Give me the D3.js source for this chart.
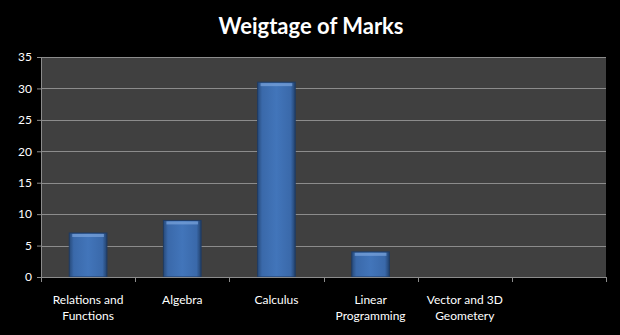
<!DOCTYPE html>
<meta charset="utf-8">
<style>
    body { margin: 0; background: #000; }
    text { font-family: Lato, "Open Sans", sans-serif; fill: #fff; }
    .title { font-size: 22px; font-weight: bold; }
    .axis text { font-size: 12px; }
    .axis path, .axis line { stroke: #8c8c8c; }
    .grid line { stroke: #8c8c8c; stroke-width: 1; }
</style>
<svg width="620" height="335"></svg>
<script src="https://d3js.org/d3.v7.min.js"></script>
<script>

    var categories = ["Relations and\nFunctions", "Algebra", "Calculus", "Linear\nProgramming", "Vector and 3D\nGeometery", ""];
    var marks = [7, 9, 31, 4, 0, null];
    var yTicks = [0, 5, 10, 15, 20, 25, 30, 35];

    var svg = d3.select("svg"),
            width = +svg.attr("width"),
            height = +svg.attr("height");

    var margin = {top: 57, right: 14, bottom: 58, left: 41};
    var plotW = width - margin.left - margin.right,
            plotH = height - margin.top - margin.bottom;

    svg.append("rect").attr("width", width).attr("height", height).attr("fill", "#000");

    svg.append("text")
            .attr("class", "title")
            .attr("x", 311)
            .attr("y", 34)
            .attr("text-anchor", "middle")
            .text("Weigtage of Marks");

    var g = svg.append("g").attr("transform", "translate(" + margin.left + "," + margin.top + ")");

    var xb = d3.scaleBand().domain(d3.range(categories.length)).range([0, plotW]);
    var y = d3.scaleLinear().domain([0, 35]).range([plotH, 0]);

    g.append("rect").attr("width", plotW).attr("height", plotH).attr("fill", "#404040");

    g.append("g").attr("class", "grid")
            .selectAll("line")
            .data(yTicks.filter(function(d) { return d > 0; }))
            .enter().append("line")
            .attr("x1", 0).attr("x2", plotW)
            .attr("y1", function(d) { return Math.round(y(d)) + 0.5; })
            .attr("y2", function(d) { return Math.round(y(d)) + 0.5; });

    var defs = svg.append("defs");
    var grad = defs.append("linearGradient").attr("id", "barGrad").attr("x1", 0).attr("x2", 1).attr("y1", 0).attr("y2", 0);
    grad.append("stop").attr("offset", 0).attr("stop-color", "#274a7a");
    grad.append("stop").attr("offset", 0.12).attr("stop-color", "#3a69aa");
    grad.append("stop").attr("offset", 0.5).attr("stop-color", "#4275ba");
    grad.append("stop").attr("offset", 0.88).attr("stop-color", "#3a69aa");
    grad.append("stop").attr("offset", 1).attr("stop-color", "#22416c");

    var bars = g.append("g").selectAll("g")
            .data(marks.map(function(v, i) { return {i: i, v: v}; }).filter(function(d) { return d.v > 0; }))
            .enter().append("g");

    bars.append("rect")
            .attr("x", function(d) { return xb(d.i) + xb.bandwidth() * 0.3; })
            .attr("width", xb.bandwidth() * 0.4)
            .attr("y", function(d) { return y(d.v); })
            .attr("height", function(d) { return plotH - y(d.v); })
            .attr("fill", "url(#barGrad)")
            .attr("stroke", "#1f3b63")
            .attr("stroke-width", 1);

    // top bevel
    bars.append("rect")
            .attr("x", function(d) { return xb(d.i) + xb.bandwidth() * 0.3 + 3; })
            .attr("width", xb.bandwidth() * 0.4 - 6)
            .attr("y", function(d) { return y(d.v) + 1; })
            .attr("height", 3)
            .attr("fill", "#7aa4dc")
            .attr("opacity", 0.7);

    var yAxis = g.append("g").attr("class", "axis")
            .call(d3.axisLeft(y).tickValues(yTicks).tickSize(4).tickPadding(5));
    yAxis.select(".domain").attr("d", "M0.5," + plotH + "V0");

    var xAxis = g.append("g").attr("class", "axis")
            .attr("transform", "translate(0," + plotH + ")")
            .call(d3.axisBottom(xb).tickValues([]).tickSizeOuter(0));
    xAxis.select(".domain").attr("d", "M0,0.5H" + plotW);

    xAxis.selectAll(".sep")
            .data(d3.range(categories.length + 1))
            .enter().append("line")
            .attr("x1", function(d) { return Math.round(d * xb.step()) + 0.5; })
            .attr("x2", function(d) { return Math.round(d * xb.step()) + 0.5; })
            .attr("y1", 0).attr("y2", 5);

    var labels = xAxis.selectAll(".lbl")
            .data(categories)
            .enter().append("text")
            .attr("class", "lbl")
            .attr("text-anchor", "middle")
            .attr("transform", function(d, i) { return "translate(" + (xb(i) + xb.bandwidth() / 2) + ",27)"; });

    labels.selectAll("tspan")
            .data(function(d) { return d.split("\n"); })
            .enter().append("tspan")
            .attr("x", 0)
            .attr("dy", function(d, i) { return i === 0 ? 0 : 16; })
            .text(function(d) { return d; });

</script>
